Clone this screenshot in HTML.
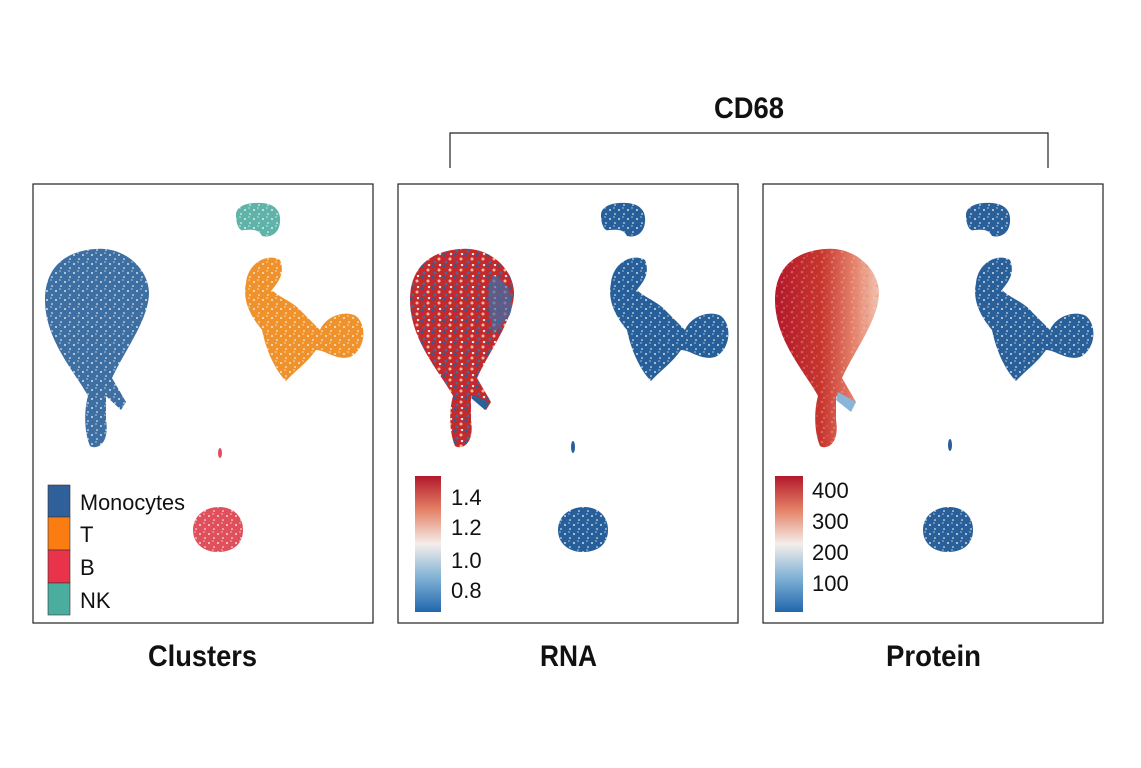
<!DOCTYPE html>
<html><head><meta charset="utf-8"><style>
html,body{margin:0;padding:0;background:#fff;}
svg{display:block}
text{font-family:"Liberation Sans Narrow","Liberation Sans",sans-serif;}
</style></head><body>
<svg width="1141" height="768" viewBox="0 0 1141 768" xmlns="http://www.w3.org/2000/svg">
<defs>
<pattern id="speck" width="9" height="9" patternUnits="userSpaceOnUse">
<circle cx="2" cy="3" r="0.9" fill="#fff"/><circle cx="7" cy="7" r="0.8" fill="#fff"/><circle cx="6" cy="1" r="0.6" fill="#fff"/>
</pattern>
<pattern id="bluedots" width="11" height="11" patternUnits="userSpaceOnUse">
<circle cx="2" cy="2" r="1.6" fill="#2b5f97"/><circle cx="8" cy="6" r="1.5" fill="#f0b8a0"/><circle cx="4" cy="9" r="1.4" fill="#3a6ea8"/><circle cx="9" cy="1" r="1.2" fill="#e8e8e8"/>
</pattern>
<pattern id="pinkdots" width="10" height="10" patternUnits="userSpaceOnUse">
<circle cx="2" cy="2" r="1.3" fill="#f2c0ac"/><circle cx="7" cy="6" r="1.2" fill="#e07860"/><circle cx="4" cy="8" r="1" fill="#f5e5de"/>
</pattern>
<linearGradient id="protg" x1="0" x2="1" y1="0" y2="0">
<stop offset="0" stop-color="#b2182b"/><stop offset="0.45" stop-color="#c8362f"/><stop offset="0.75" stop-color="#e4806a"/><stop offset="1" stop-color="#f2c2ae"/>
</linearGradient>
<linearGradient id="cbar" x1="0" x2="0" y1="0" y2="1">
<stop offset="0" stop-color="#b2182b"/><stop offset="0.25" stop-color="#e58267"/><stop offset="0.5" stop-color="#f4eeea"/><stop offset="0.75" stop-color="#7fb1d5"/><stop offset="1" stop-color="#2166ac"/>
</linearGradient>
<path id="mono" d="M95,249 C125,246 150,270 149,295 C147,322 125,350 112,378 L126,402 L121,410 L106,396 L106,420 C110,445 96,450 90,446 C84,432 84,410 88,396 C75,372 45,340 45,300 C45,265 68,251 95,249 Z"/>
<path id="tcl" d="M246,283 C248,262 268,253 280,260 C286,275 276,284 272,290 C280,298 294,302 302,312 L320,330 C326,316 345,310 356,316 C368,326 365,350 350,357 C336,361 326,350 316,350 C306,364 296,370 286,381 C275,370 266,350 262,330 C252,318 242,302 246,283 Z"/>
<path id="bc" d="M193,530 C193,515 206,507 219,507 C234,507 243,517 243,530 C243,545 232,552 218,552 C203,552 193,543 193,530 Z"/>
<path id="nk" d="M236,215 C236,205 250,202 262,203 C276,204 281,212 280,222 C279,234 270,238 262,236 C258,228 250,230 244,230 C240,232 236,225 236,215 Z"/>
</defs>

<rect x="33" y="184" width="340" height="439" fill="none" stroke="#222" stroke-width="1.2"/>
<rect x="398" y="184" width="340" height="439" fill="none" stroke="#222" stroke-width="1.2"/>
<rect x="763" y="184" width="340" height="439" fill="none" stroke="#222" stroke-width="1.2"/>

<g>
<use href="#mono" fill="#3e6fa3"/><use href="#mono" fill="url(#speck)"/>
<use href="#tcl" fill="#f0922b"/><use href="#tcl" fill="url(#speck)"/>
<use href="#nk" fill="#5fb3a8"/><use href="#nk" fill="url(#speck)"/>
<use href="#bc" fill="#e0505c"/><use href="#bc" fill="url(#speck)"/>
<ellipse cx="220" cy="453" rx="2" ry="5" fill="#e0505c"/>
</g>
<rect x="48" y="485" width="22" height="32" fill="#2f609a" stroke="#333" stroke-width="0.6"/>
<rect x="48" y="517" width="22" height="33" fill="#fb7d12" stroke="#333" stroke-width="0.6"/>
<rect x="48" y="550" width="22" height="33" fill="#e8334a" stroke="#333" stroke-width="0.6"/>
<rect x="48" y="583" width="22" height="32" fill="#4aad9e" stroke="#333" stroke-width="0.6"/>
<g font-size="22" fill="#111">
<text x="80" y="510" textLength="105" lengthAdjust="spacingAndGlyphs">Monocytes</text><text x="80" y="542">T</text><text x="80" y="575">B</text><text x="80" y="608">NK</text>
</g>

<g transform="translate(365,0)">
<use href="#tcl" fill="#265f99"/><use href="#tcl" fill="url(#speck)"/>
<use href="#nk" fill="#265f99"/><use href="#nk" fill="url(#speck)"/>
<use href="#bc" fill="#265f99"/><use href="#bc" fill="url(#speck)"/>
<ellipse cx="208" cy="447" rx="2" ry="6" fill="#265f99"/>
<use href="#mono" fill="#c42a2c"/><use href="#mono" fill="url(#bluedots)"/>
<path d="M128,275 C145,282 150,300 145,315 L128,335 C124,305 120,290 128,275 Z" fill="#3a6ea8" opacity="0.7"/>
<path d="M108,395 L124,402 L120,410 L106,398 Z" fill="#2b5f97"/>
</g>
<rect x="415" y="476" width="26" height="136" fill="url(#cbar)"/>
<g font-size="22" fill="#111">
<text x="451" y="505">1.4</text><text x="451" y="535">1.2</text><text x="451" y="568">1.0</text><text x="451" y="598">0.8</text>
</g>

<g transform="translate(730,0)">
<use href="#tcl" fill="#2a6099"/><use href="#tcl" fill="url(#speck)"/>
<use href="#nk" fill="#2a6099"/><use href="#nk" fill="url(#speck)"/>
<use href="#bc" fill="#2a6099"/><use href="#bc" fill="url(#speck)"/>
<ellipse cx="220" cy="445" rx="2" ry="6" fill="#2a6099"/>
<use href="#mono" fill="url(#protg)"/><use href="#mono" fill="url(#pinkdots)" opacity="0.35"/>
<path d="M108,392 L126,402 L121,412 L106,400 Z" fill="#8ab4d8"/>
</g>
<rect x="775" y="476" width="28" height="136" fill="url(#cbar)"/>
<g font-size="22" fill="#111">
<text x="812" y="498">400</text><text x="812" y="529">300</text><text x="812" y="560">200</text><text x="812" y="591">100</text>
</g>

<path d="M450,168 L450,133 L1048,133 L1048,168" fill="none" stroke="#222" stroke-width="1.2"/>
<text x="714" y="118" font-size="30" font-weight="bold" fill="#111" textLength="70" lengthAdjust="spacingAndGlyphs">CD68</text>

<g font-size="30" font-weight="bold" fill="#111">
<text x="148" y="666" textLength="109" lengthAdjust="spacingAndGlyphs">Clusters</text>
<text x="540" y="666" textLength="57" lengthAdjust="spacingAndGlyphs">RNA</text>
<text x="886" y="666" textLength="95" lengthAdjust="spacingAndGlyphs">Protein</text>
</g>
</svg>
</body></html>
